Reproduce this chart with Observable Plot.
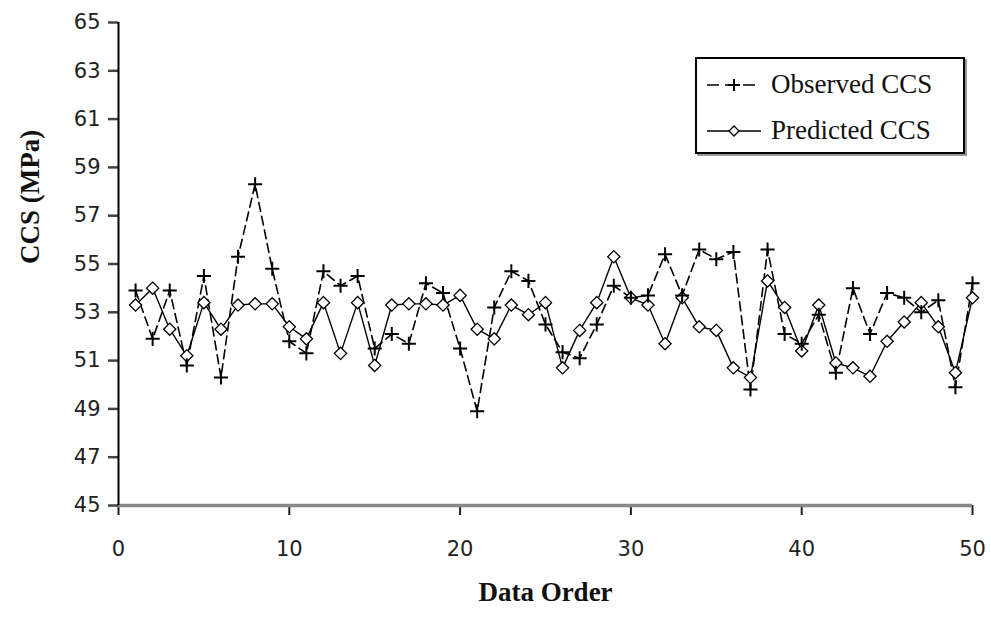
<!DOCTYPE html>
<html>
<head>
<meta charset="utf-8">
<script src="https://cdn.jsdelivr.net/npm/d3@7"></script>
<script src="https://cdn.jsdelivr.net/npm/@observablehq/plot@0.6"></script>
<style>
  body { margin: 0; background: #fff; }
  #wrap { position: relative; width: 991px; height: 617px; }
  #legend {
    position: absolute; left: 695px; top: 57px; width: 270px; height: 97px;
    border: 2px solid #000; box-shadow: 2px 2px 0 #999; background: #fff;
    font-family: "Liberation Serif", "Times New Roman", serif; font-size: 27px; color: #111;
    box-sizing: border-box;
  }
  .row { position: absolute; left: 8px; display: flex; align-items: center; }
  .row svg { margin-right: 8px; }
</style>
</head>
<body>
<div id="wrap">
  <div id="chart"></div>
  <div id="legend">
    <div class="row" style="top:10px">
      <svg width="58" height="20"><line x1="2" y1="10" x2="56" y2="10" stroke="#000" stroke-width="1.6" stroke-dasharray="12,6"/><path d="M29,4V16M23,10H35" stroke="#000" stroke-width="2"/></svg>
      <span>Observed CCS</span>
    </div>
    <div class="row" style="top:56px">
      <svg width="58" height="20"><line x1="2" y1="10" x2="56" y2="10" stroke="#000" stroke-width="1.4"/><path d="M29,5L34,10L29,15L24,10Z" fill="#fff" stroke="#000" stroke-width="1.3"/></svg>
      <span>Predicted CCS</span>
    </div>
  </div>
</div>
<script>
const order = [1,2,3,4,5,6,7,8,9,10,11,12,13,14,15,16,17,18,19,20,21,22,23,24,25,26,27,28,29,30,31,32,33,34,35,36,37,38,39,40,41,42,43,44,45,46,47,48,49,50];
const observed = [53.9,51.9,53.9,50.8,54.5,50.3,55.3,58.3,54.8,51.8,
                  51.3,54.7,54.1,54.5,51.5,52.1,51.7,54.2,53.8,51.5,
                  48.9,53.2,54.7,54.3,52.5,51.35,51.1,52.5,54.1,53.6,
                  53.7,55.4,53.7,55.6,55.2,55.5,49.8,55.6,52.1,51.7,
                  52.9,50.5,54.0,52.1,53.8,53.6,53.0,53.5,49.9,54.2];
const predicted = [53.3,54.0,52.3,51.2,53.4,52.3,53.3,53.35,53.35,52.4,
                   51.9,53.4,51.3,53.4,50.8,53.3,53.35,53.35,53.3,53.7,
                   52.3,51.9,53.3,52.9,53.4,50.7,52.25,53.4,55.3,53.6,
                   53.3,51.7,53.6,52.4,52.25,50.7,50.3,54.3,53.2,51.4,
                   53.3,50.9,50.7,50.35,51.8,52.6,53.4,52.4,50.5,53.6];
const xTicks = [0,10,20,30,40,50];
const yTicks = [45,47,49,51,53,55,57,59,61,63,65];
const yTitle = "CCS (MPa)";
const xTitle = "Data Order";

const data = order.map((o, i) => ({order: o, observed: observed[i], predicted: predicted[i]}));

const chart = Plot.plot({
  width: 991, height: 617,
  marginLeft: 118, marginRight: 19, marginTop: 22, marginBottom: 112,
  x: {domain: [0, 50]},
  y: {domain: [45, 65]},
  style: {fontFamily: "DejaVu Sans, sans-serif", fontSize: "21px", color: "#222", background: "#fff"},
  marks: [
    Plot.axisY({ticks: yTicks, tickSize: 10, tickPadding: 8, label: null, stroke: "#444", strokeWidth: 2.5, fontSize: 21}),
    Plot.axisX({ticks: xTicks, tickSize: 10, tickPadding: 26, label: null, stroke: "#222", strokeWidth: 2, fontSize: 21}),
    Plot.ruleY([45], {stroke: "#888", strokeWidth: 3.5}),
    Plot.ruleX([0], {stroke: "#000", strokeWidth: 2}),
    Plot.line(data, {x: "order", y: "predicted", stroke: "#000", strokeWidth: 1.4}),
    Plot.line(data, {x: "order", y: "observed", stroke: "#000", strokeWidth: 1.6, strokeDasharray: "9,5"}),
    Plot.dot(data, {x: "order", y: "predicted", symbol: "diamond2", r: 5.5, fill: "#fff", stroke: "#000", strokeWidth: 1.3}),
    Plot.dot(data, {x: "order", y: "observed", symbol: "plus", r: 4.6, stroke: "#000", strokeWidth: 2}),
    Plot.text([yTitle], {frameAnchor: "left", rotate: -90, dx: -88, fontFamily: "Liberation Serif, serif", fontWeight: "bold", fontSize: 27, fill: "#111"}),
    Plot.text([xTitle], {frameAnchor: "bottom", dy: 95, fontFamily: "Liberation Serif, serif", fontWeight: "bold", fontSize: 27, fill: "#111"})
  ]
});
document.getElementById("chart").appendChild(chart);
</script>
</body>
</html>
